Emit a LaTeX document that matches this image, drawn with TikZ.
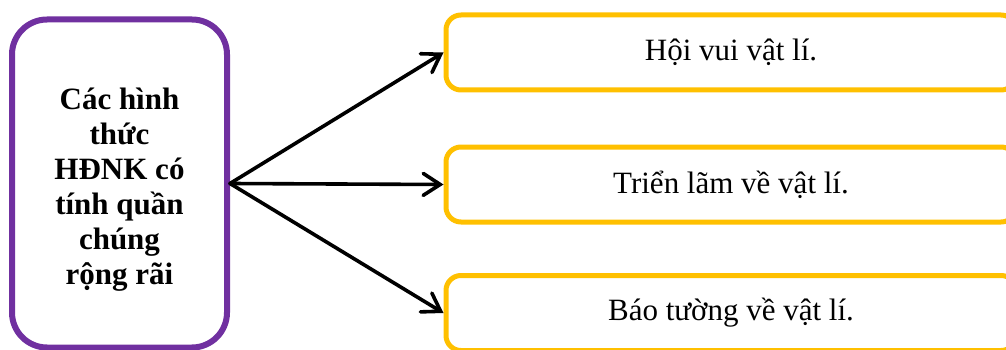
\documentclass[tikz,border=0pt]{standalone}
\usepackage{fontspec}
\setmainfont{Liberation Serif}
\usetikzlibrary{arrows.meta}
\definecolor{framepurple}{HTML}{7030A0}
\definecolor{frameyellow}{HTML}{FFC000}
\begin{document}
\begin{tikzpicture}[x=1pt,y=-1pt,
  mainbox/.style={draw=framepurple, line width=6pt, rounded corners=35pt,
    minimum width=215pt, minimum height=328pt, inner sep=0pt},
  maintext/.style={inner sep=0pt, align=center,
    font=\fontsize{31}{35}\selectfont\bfseries},
  itembox/.style={draw=frameyellow, line width=5pt, rounded corners=15pt,
    minimum width=570pt, minimum height=75pt, inner sep=0pt,
    font=\fontsize{31}{35}\selectfont},
  link/.style={line width=3.6pt, line cap=round,
    -{Straight Barb[length=17pt,width=22pt,line cap=round]}}]
  \useasboundingbox (0,0) rectangle (1006,350);
  \clip (0,0) rectangle (1006,350);
  \node[mainbox] (src) at (119.5,183.5) {};
  \node[maintext] (srctext) at (119.5,190) {Các hình\\thức\\HĐNK có\\tính quần\\chúng\\rộng rãi};
  \node[itembox] (b1) at (731,52.5) {Hội vui vật lí.};
  \node[itembox] (b2) at (731,184.5) {Triển lãm về vật lí.};
  \node[itembox] (b3) at (731,313) {Báo tường về vật lí.};
  \draw[link] (src.east) -- (b1.west);
  \draw[link] (src.east) -- (b2.west);
  \draw[link] (src.east) -- (b3.west);
\end{tikzpicture}
\end{document}
